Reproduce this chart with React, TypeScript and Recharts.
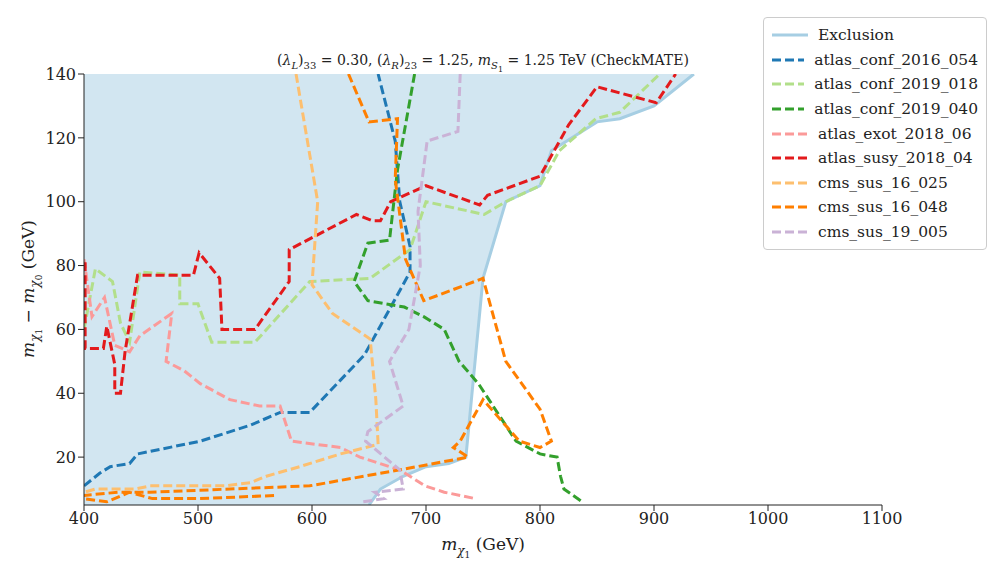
import { Area, ComposedChart, Line, XAxis, YAxis, Label } from "recharts";

const X_TICKS = [400, 500, 600, 700, 800, 900, 1000, 1100];
const Y_TICKS = [20, 40, 60, 80, 100, 120, 140];

// exclusion region as [low, high] per x
const exclusionX = [400, 650, 660, 680, 700, 720, 735, 750, 770, 800, 810, 850, 870, 900, 935];
const exclusionLow = [5, 5, 10, 14, 17, 18, 20, 76, 100, 105, 116, 125, 126, 130, 140];
const exclusionHigh = [140, 140, 140, 140, 140, 140, 140, 140, 140, 140, 140, 140, 140, 140, 140];

const atlasConf2016054: [number, number][] = [
  [400, 11], [414, 15], [423, 17], [440, 18], [447, 21], [502, 25], [546, 30], [572, 34], [598, 34],
  [646, 52], [686, 78], [686, 86], [677, 100], [673, 119], [658, 140],
];
const atlasConf2019018: [number, number][] = [
  [400, 60], [410, 79], [425, 75], [432, 62], [440, 56], [449, 78], [484, 77], [484, 68], [500, 68],
  [512, 56], [550, 56], [598, 75], [651, 76], [686, 85], [700, 100], [751, 96], [770, 100], [800, 105],
  [817, 116], [849, 126], [870, 128], [905, 140],
];
const atlasConf2019040: [number, number][] = [
  [690, 140], [675, 110], [668, 88], [649, 87], [637, 75], [649, 69], [681, 67], [698, 64], [716, 60],
  [729, 50], [746, 43], [779, 25], [800, 21], [815, 20], [818, 14], [821, 10], [837, 6],
];
const atlasExot201806: [number, number][] = [
  [400, 82], [407, 64], [418, 70], [427, 55], [440, 53], [449, 58], [477, 65], [472, 50], [488, 47],
  [502, 43], [528, 38], [554, 36], [572, 36], [582, 25], [625, 23], [642, 20], [677, 16], [699, 11],
  [716, 9], [730, 8], [743, 7],
];
const atlasSusy201804: [number, number][] = [
  [401, 81], [401, 54], [417, 54], [420, 61], [427, 49], [427, 40], [432, 40], [436, 53], [447, 77],
  [496, 77], [501, 84], [519, 76], [521, 60], [550, 60], [580, 75], [580, 85], [639, 96], [653, 94],
  [660, 94], [669, 100], [700, 105], [747, 99], [754, 102], [800, 108], [825, 124], [850, 136],
  [902, 131], [919, 140],
];
const cmsSus16025: [number, number][] = [
  [586, 140], [605, 100], [600, 74], [618, 65], [651, 57], [656, 38], [658, 24], [625, 21], [589, 17],
  [560, 14], [546, 12], [524, 11], [458, 11], [445, 10], [410, 10], [400, 9],
];
const cmsSus16048: [number, number][] = [
  [632, 140], [650, 125], [675, 126], [673, 107], [682, 82], [698, 69], [750, 76], [770, 50], [800, 35],
  [810, 25], [800, 23], [782, 25], [750, 38], [730, 25], [724, 23], [737, 20], [677, 16], [598, 11],
  [458, 9], [430, 9], [400, 8], [400, 7], [420, 6], [440, 9], [460, 7], [500, 7], [570, 8],
];
const cmsSus19005: [number, number][] = [
  [730, 140], [728, 122], [701, 119], [693, 97], [695, 80], [685, 60], [668, 50], [680, 36], [649, 28],
  [647, 25], [677, 16], [680, 10], [655, 9], [663, 7], [645, 6],
];

const SERIES = [
  { name: "atlas_conf_2016_054", color: "#1f78b4", pts: atlasConf2016054 },
  { name: "atlas_conf_2019_018", color: "#b2df8a", pts: atlasConf2019018 },
  { name: "atlas_conf_2019_040", color: "#33a02c", pts: atlasConf2019040 },
  { name: "atlas_exot_2018_06", color: "#fb9a99", pts: atlasExot201806 },
  { name: "atlas_susy_2018_04", color: "#e31a1c", pts: atlasSusy201804 },
  { name: "cms_sus_16_025", color: "#fdbf6f", pts: cmsSus16025 },
  { name: "cms_sus_16_048", color: "#ff7f00", pts: cmsSus16048 },
  { name: "cms_sus_19_005", color: "#cab2d6", pts: cmsSus19005 },
];

const FONT = "'DejaVu Serif', serif";

const exclusionData = exclusionX.map((x, i) => ({
  x,
  range: [exclusionLow[i], exclusionHigh[i]],
  low: exclusionLow[i],
}));

function LegendBox() {
  const items = [{ name: "Exclusion", color: "#a6cee3", dashed: false }].concat(
    SERIES.map((s) => ({ name: s.name, color: s.color, dashed: true }))
  );
  return (
    <div
      style={{
        position: "absolute",
        top: 17,
        left: 763,
        width: 206,
        background: "white",
        border: "1px solid #ccc",
        borderRadius: 4,
        padding: "5px 8px",
        fontFamily: FONT,
        fontSize: 15.5,
        color: "#222",
      }}
    >
      {items.map((it) => (
        <div key={it.name} style={{ display: "flex", alignItems: "center", height: 24.6 }}>
          <svg width={36} height={10} style={{ marginRight: 10 }}>
            <line
              x1={0}
              x2={36}
              y1={5}
              y2={5}
              stroke={it.color}
              strokeWidth={3}
              strokeDasharray={it.dashed ? "9 4" : undefined}
            />
          </svg>
          {it.name}
        </div>
      ))}
    </div>
  );
}

export default function App() {
  return (
    <div style={{ position: "absolute", left: 0, top: 0, width: 1008, height: 576, background: "white" }}>
      <div
        style={{
          position: "absolute",
          top: 52,
          left: 84,
          width: 798,
          textAlign: "center",
          fontFamily: FONT,
          fontSize: 14,
          color: "#222",
        }}
      >
        (<i>λ</i><sub style={{ fontSize: 10 }}><i>L</i></sub>)<sub style={{ fontSize: 10 }}>33</sub> = 0.30, (
        <i>λ</i><sub style={{ fontSize: 10 }}><i>R</i></sub>)<sub style={{ fontSize: 10 }}>23</sub> = 1.25,{" "}
        <i>m</i><sub style={{ fontSize: 10 }}><i>S</i><sub style={{ fontSize: 8 }}>1</sub></sub> = 1.25 TeV (CheckMATE)
      </div>
      <ComposedChart
        width={1008}
        height={576}
        data={exclusionData}
        margin={{ top: 74, right: 126, bottom: 31, left: 24 }}
      >
        <XAxis
          type="number"
          dataKey="x"
          domain={[400, 1100]}
          ticks={X_TICKS}
          allowDataOverflow
          height={40}
          tick={{ fill: "#222", fontSize: 16, fontFamily: FONT }}
          tickSize={6}
          stroke="#222"
        >
          <Label
            content={() => (
              <text x={483} y={550} textAnchor="middle" fontFamily={FONT} fontSize={17} fill="#222">
                <tspan fontStyle="italic">m</tspan>
                <tspan fontSize={12} dy={5} fontStyle="italic">χ</tspan>
                <tspan fontSize={9} dy={3}>1</tspan>
                <tspan dy={-8}> (GeV)</tspan>
              </text>
            )}
          />
        </XAxis>
        <XAxis xAxisId="top" orientation="top" type="number" domain={[400, 1100]} tick={false} tickLine={false} stroke="#222" height={0} />
        <YAxis
          type="number"
          domain={[5, 140]}
          ticks={Y_TICKS}
          allowDataOverflow
          width={60}
          tick={{ fill: "#222", fontSize: 16, fontFamily: FONT }}
          tickSize={6}
          stroke="#222"
        >
          <Label
            content={() => (
              <text
                x={34}
                y={289}
                textAnchor="middle"
                transform="rotate(-90 34 289)"
                fontFamily={FONT}
                fontSize={17}
                fill="#222"
              >
                <tspan fontStyle="italic">m</tspan>
                <tspan fontSize={12} dy={5} fontStyle="italic">χ</tspan>
                <tspan fontSize={9} dy={3}>1</tspan>
                <tspan dy={-8}> − </tspan>
                <tspan fontStyle="italic">m</tspan>
                <tspan fontSize={12} dy={5} fontStyle="italic">χ</tspan>
                <tspan fontSize={9} dy={3}>0</tspan>
                <tspan dy={-8}> (GeV)</tspan>
              </text>
            )}
          />
        </YAxis>
        <YAxis yAxisId="right" orientation="right" domain={[5, 140]} tick={false} tickLine={false} stroke="#222" width={0} />
        <Area
          type="linear"
          dataKey="range"
          stroke="none"
          fill="#a6cee3"
          fillOpacity={0.5}
          isAnimationActive={false}
          legendType="none"
        />
        <Line
          type="linear"
          data={exclusionData.slice(1)}
          dataKey="low"
          stroke="#a6cee3"
          strokeWidth={3}
          dot={false}
          isAnimationActive={false}
          legendType="none"
        />
        {SERIES.map((s) => (
          <Line
            key={s.name}
            type="linear"
            data={s.pts.map(([x, y]) => ({ x, y }))}
            dataKey="y"
            name={s.name}
            stroke={s.color}
            strokeWidth={3}
            strokeDasharray="9 4"
            dot={false}
            isAnimationActive={false}
          />
        ))}
      </ComposedChart>
      <LegendBox />
    </div>
  );
}
